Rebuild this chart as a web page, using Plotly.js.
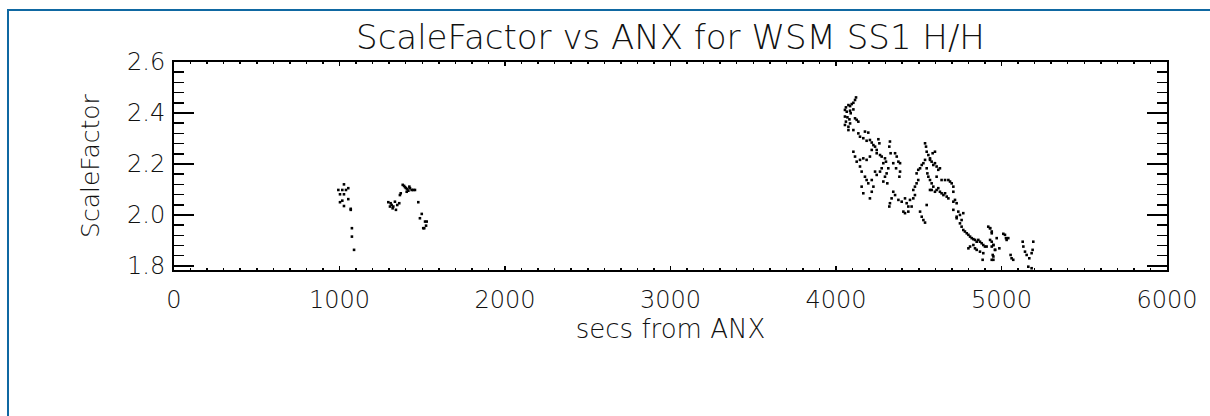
<!DOCTYPE html>
<html>
<head>
<meta charset="utf-8">
<script src="https://cdn.plot.ly/plotly-3.0.1.min.js"></script>
<style>
html,body{margin:0;padding:0;background:#fff;overflow:hidden;width:1210px;height:416px;}
#chart{width:1210px;height:416px;position:absolute;left:0;top:0;}
#frame{position:absolute;left:7px;top:9px;width:3000px;height:3000px;border-left:2px solid #0f68a2;border-top:2px solid #0f68a2;border-right:none;border-bottom:none;pointer-events:none;}
</style>
</head>
<body>
<div id="chart"></div>
<div id="frame"></div>
<script>
// Chart text
var chartTitle = "ScaleFactor vs ANX for WSM SS1 H/H";
var xTitle = "secs from ANX";
var yTitle = "ScaleFactor";
var xTickVals = [0, 1000, 2000, 3000, 4000, 5000, 6000];
var yTickVals = [1.8, 2.0, 2.2, 2.4, 2.6];
var yTickText = ["1.8", "2.0", "2.2", "2.4", "2.6"];

// First short pass (~1000 s)
var passAx = [1027, 993, 1017, 1039, 1053, 1003, 1027, 1053, 1017, 1003, 1027, 1068, 1068, 1075, 1075, 1088];
var passAy = [2.120, 2.098, 2.098, 2.098, 2.105, 2.081, 2.081, 2.062, 2.056, 2.050, 2.035, 2.024, 2.020, 1.948, 1.915, 1.863];

// Second short pass (~1300-1530 s)
var passBx = [1295, 1309, 1315, 1325, 1335, 1349, 1361, 1341, 1305, 1321, 1365, 1370, 1382, 1390, 1396, 1402, 1410, 1416, 1426, 1436, 1446, 1456, 1406, 1422, 1476, 1497, 1486, 1517, 1527, 1523, 1506, 1512];
var passBy = [2.050, 2.046, 2.039, 2.033, 2.052, 2.039, 2.046, 2.020, 2.033, 2.026, 2.078, 2.085, 2.118, 2.114, 2.109, 2.105, 2.101, 2.095, 2.105, 2.098, 2.098, 2.098, 2.091, 2.111, 2.050, 2.004, 1.987, 1.974, 1.974, 1.958, 1.948, 1.948];

// Long pass (~4050-5200 s)
var passCx = [4121, 4115, 4105, 4095, 4085, 4075, 4060, 4054, 4065, 4085, 4105, 4089, 4054, 4069, 4081, 4060, 4054, 4075, 4085, 4115,
  4125, 4135, 4075, 4105, 4135, 4175, 4195, 4145, 4165, 4185, 4205, 4216, 4226, 4236, 4246, 4256, 4262, 4216, 4246, 4266,
  4276, 4296, 4302, 4286, 4326, 4322, 4330, 4357, 4367, 4377, 4346, 4387, 4363, 4316, 4306, 4296, 4286, 4310, 4105, 4115,
  4125, 4145, 4165, 4185, 4205, 4145, 4155, 4175, 4185, 4195, 4216, 4226, 4155, 4165, 4205, 4216, 4246, 4236, 4266, 4276,
  4383, 4387, 4346, 4357, 4336, 4326, 4322, 4377, 4397, 4417, 4427, 4437, 4447, 4467, 4477, 4407, 4417, 4437, 4457, 4467,
  4477, 4487, 4497, 4487, 4497, 4508, 4518, 4528, 4538, 4538, 4544, 4548, 4558, 4568, 4578, 4588, 4598, 4608, 4618, 4628,
  4548, 4552, 4558, 4568, 4578, 4588, 4598, 4608, 4618, 4628, 4638, 4649, 4659, 4669, 4679, 4689, 4699, 4709, 4679, 4659,
  4638, 4568, 4584, 4598, 4578, 4568, 4608, 4508, 4518, 4528, 4538, 4548, 4709, 4719, 4729, 4739, 4749, 4759, 4769, 4729,
  4749, 4759, 4769, 4779, 4790, 4800, 4810, 4820, 4830, 4840, 4850, 4860, 4870, 4880, 4890, 4900, 4830, 4840, 4850, 4870,
  4890, 4910, 4920, 4931, 4941, 4931, 4941, 4951, 4961, 4951, 4951, 4886, 4800, 4810, 4729, 4709, 4709,
  4941, 4931, 4941, 4951, 4961, 4947, 4941, 4971, 4987, 5011, 5021, 5027, 5031, 5041, 5055, 5061, 5071, 5128, 5132, 5142,
  5152, 5168, 5182, 5188, 5192, 5162, 5182];
var passCy = [2.461, 2.451, 2.440, 2.435, 2.427, 2.431, 2.422, 2.412, 2.405, 2.409, 2.414, 2.399, 2.386, 2.383, 2.375, 2.366, 2.353, 2.346, 2.359, 2.379,
  2.373, 2.366, 2.333, 2.333, 2.320, 2.327, 2.323, 2.307, 2.301, 2.291, 2.294, 2.284, 2.274, 2.268, 2.255, 2.297, 2.281, 2.255, 2.242, 2.235,
  2.229, 2.222, 2.209, 2.203, 2.288, 2.268, 2.242, 2.242, 2.229, 2.209, 2.203, 2.203, 2.183, 2.183, 2.163, 2.150, 2.131, 2.124, 2.248, 2.229,
  2.209, 2.216, 2.222, 2.216, 2.229, 2.190, 2.170, 2.150, 2.137, 2.124, 2.137, 2.111, 2.111, 2.085, 2.065, 2.091, 2.157, 2.170, 2.170, 2.183,
  2.150, 2.170, 2.091, 2.078, 2.065, 2.046, 2.033, 2.059, 2.052, 2.065, 2.046, 2.033, 2.059, 2.065, 2.078, 2.013, 2.007, 2.013, 2.033, 2.098,
  2.111, 2.124, 2.137, 2.163, 2.177, 2.183, 2.196, 2.203, 2.216, 2.281, 2.268, 2.248, 2.235, 2.222, 2.209, 2.196, 2.203, 2.190, 2.177, 2.183,
  2.183, 2.163, 2.150, 2.137, 2.124, 2.111, 2.091, 2.098, 2.105, 2.091, 2.085, 2.078, 2.085, 2.072, 2.065, 2.131, 2.124, 2.111, 2.137, 2.137,
  2.137, 2.216, 2.242, 2.248, 2.098, 2.098, 2.150, 2.013, 1.993, 1.980, 1.970, 2.039, 2.091, 2.059, 2.046, 2.013, 2.000, 1.980, 2.007, 1.987,
  1.967, 1.954, 1.941, 1.935, 1.928, 1.922, 1.915, 1.909, 1.905, 1.902, 1.895, 1.902, 1.895, 1.889, 1.882, 1.876, 1.882, 1.869, 1.863, 1.856,
  1.850, 1.876, 1.954, 1.948, 1.928, 1.902, 1.876, 1.882, 1.863, 1.837, 1.824, 1.824, 1.869, 1.876, 1.993, 2.052, 2.020,
  1.935, 1.948, 1.895, 1.882, 1.863, 1.843, 1.824, 1.909, 1.869, 1.926, 1.922, 1.909, 1.902, 1.909, 1.843, 1.830, 1.824, 1.895, 1.876, 1.856,
  1.843, 1.830, 1.850, 1.863, 1.895, 1.797, 1.791];

var xs = passAx.concat(passBx, passCx);
var ys = passAy.concat(passBy, passCy);

var font = {family: "DejaVu Sans, sans-serif", size: 24, color: "#111", weight: 300};

var trace = {
  type: "scatter",
  mode: "markers",
  x: xs,
  y: ys,
  marker: {symbol: "square", size: 2.6, color: "#000", line: {width: 0}},
  hoverinfo: "x+y"
};

var layout = {
  width: 1210,
  height: 416,
  margin: {l: 174, r: 43, t: 62, b: 146, pad: 0},
  paper_bgcolor: "#fff",
  plot_bgcolor: "#fff",
  showlegend: false,
  font: font,
  title: {
    text: chartTitle,
    font: {family: "DejaVu Sans, sans-serif", size: 34, color: "#111", weight: 300},
    x: 0.5, xref: "paper", xanchor: "center",
    y: 1 - 37 / 416, yref: "container", yanchor: "middle"
  },
  xaxis: {
    range: [0, 6000],
    tickvals: xTickVals,
    ticktext: xTickVals.map(String),
    ticks: "inside",
    ticklen: 4,
    tickwidth: 1.5,
    tickcolor: "#000",
    minor: {dtick: 100, ticks: "inside", ticklen: 2, tickwidth: 1.5, tickcolor: "#000", showgrid: false},
    showline: true, linecolor: "#000", linewidth: 2, mirror: "ticks",
    showgrid: false, zeroline: false,
    tickfont: font,
    ticklabelstandoff: 7,
    title: {text: xTitle, font: {family: "DejaVu Sans, sans-serif", size: 26, color: "#111", weight: 300}, standoff: 5},
    fixedrange: true
  },
  yaxis: {
    range: [1.784, 2.6],
    tickvals: yTickVals,
    ticktext: yTickText,
    ticks: "inside",
    ticklen: 20,
    tickwidth: 1.5,
    tickcolor: "#000",
    minor: {dtick: 0.04, tick0: 1.8, ticks: "inside", ticklen: 10, tickwidth: 1.5, tickcolor: "#000", showgrid: false},
    showline: true, linecolor: "#000", linewidth: 2, mirror: "ticks",
    showgrid: false, zeroline: false,
    tickfont: font,
    ticklabelstandoff: 2,
    title: {text: yTitle, font: {family: "DejaVu Sans, sans-serif", size: 25, color: "#111", weight: 300}, standoff: 20},
    fixedrange: true
  }
};

Plotly.newPlot("chart", [trace], layout, {staticPlot: true, displayModeBar: false});
</script>
</body>
</html>
